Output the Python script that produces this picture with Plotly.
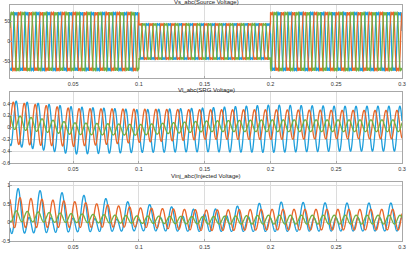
import numpy as np
import plotly.graph_objects as go

W, H = 409, 260

# ---- data ----
freq_hz = 120.0
t_start, t_end = 0.002, 0.3
n_samples = 4000

# Top: Vs_abc (Source Voltage) - peak values per segment
vs_seg_edges = [0.1, 0.2]
vs_peak = [72.0, 44.0, 72.0]
vs_phase_deg = [169.0, 49.0, 289.0]        # blue, orange, green

# Middle: Vl_abc - envelope knots
knot_t = [0.0, 0.05, 0.1, 0.15, 0.2, 0.25, 0.3]
vl_offset_blue = [0.08, -0.05, -0.06, -0.04, -0.02, -0.02, -0.02]
vl_amp_blue = [0.38, 0.40, 0.36, 0.37, 0.40, 0.38, 0.38]
vl_offset_orange = [0.08, 0.0, 0.03, 0.05, 0.05, 0.05, 0.05]
vl_amp_orange = [0.36, 0.32, 0.28, 0.25, 0.25, 0.24, 0.24]
vl_offset_green = [0.10, -0.02, -0.04, 0.02, 0.03, 0.03, 0.03]
vl_amp_green = [0.12, 0.10, 0.09, 0.09, 0.10, 0.10, 0.10]
vl_phase_deg = [160.0, 255.0, 30.0]

# Bottom: Vinj_abc - envelope knots
vi_offset_blue = [0.15, 0.12, 0.05, 0.02, 0.06, 0.06, 0.06]
vi_amp60_blue = [0.40, 0.33, 0.22, 0.05, 0.22, 0.20, 0.20]
vi_amp120_blue = [0.40, 0.33, 0.25, 0.26, 0.28, 0.27, 0.27]
vi_offset_orange = [0.28, 0.22, 0.14, 0.06, 0.08, 0.08, 0.08]
vi_amp_orange = [0.42, 0.35, 0.26, 0.28, 0.28, 0.28, 0.28]
vi_offset_green = [0.18, 0.12, 0.08, 0.06, 0.08, 0.08, 0.08]
vi_amp_green = [0.15, 0.12, 0.10, 0.10, 0.12, 0.12, 0.12]
vi_peak_time_blue = 0.0082
vi_phase_deg = [0.0, 300.0, 60.0]

series_names = ["a", "b", "c"]
colors = ["#1f9fdc", "#e8672a", "#72b043"]

titles = ["Vs_abc(Source Voltage)", "Vl_abc(SRG Voltage)", "Vinj_abc(Injected Voltage)"]
x_ticks = [0.05, 0.1, 0.15, 0.2, 0.25, 0.3]
x_tick_text = ["0.05", "0.1", "0.15", "0.2", "0.25", "0.3"]
y1_ticks = [-50, 0, 50]
y2_ticks = [-0.6, -0.4, -0.2, 0, 0.2, 0.4]
y3_ticks = [-0.5, 0, 0.5, 1]
y_ranges = [[-92, 92], [-0.6, 0.6], [-0.5, 1.1]]

# ---- build waveforms ----
t = np.linspace(t_start, t_end, n_samples)
w = 2 * np.pi * freq_hz


def seg_value(tt, edges, vals):
    idx = np.searchsorted(edges, tt, side="right")
    return np.asarray(vals)[idx]


def env(vals):
    return np.interp(t, knot_t, vals)


vs_amp = seg_value(t, vs_seg_edges, vs_peak) / 0.87
top = []
for ph in vs_phase_deg:
    th = w * t + np.radians(ph)
    top.append(vs_amp * (np.sin(th) + 0.17 * np.sin(3 * th) + 0.035 * np.sin(9 * th)))

mid = []
for off, amp, ph in [(vl_offset_blue, vl_amp_blue, vl_phase_deg[0]),
                     (vl_offset_orange, vl_amp_orange, vl_phase_deg[1]),
                     (vl_offset_green, vl_amp_green, vl_phase_deg[2])]:
    mid.append(env(off) + env(amp) * np.sin(w * t + np.radians(ph)))

bot = []
xb = 2 * np.pi * 60 * (t - vi_peak_time_blue)
bot.append(env(vi_offset_blue) + env(vi_amp60_blue) * np.cos(xb) + env(vi_amp120_blue) * np.cos(2 * xb))
bot.append(env(vi_offset_orange) + env(vi_amp_orange) * np.cos(2 * xb + np.radians(vi_phase_deg[1])))
bot.append(env(vi_offset_green) + env(vi_amp_green) * np.cos(2 * xb + np.radians(vi_phase_deg[2])))

# ---- layout in pixels ----
x_left, x_right = 10, 402
panels = [(5, 78), (92, 163), (182, 241)]  # (top, bottom) px
title_y = [2.5, 89.5, 176]


def px_x(p):
    return p / W


def px_y(p):
    return 1 - p / H


fig = go.Figure()
font = "Liberation Sans, Arial, sans-serif"
grid = "#dcdcdc"
border = "#a8a8a8"

for k, data in enumerate([top, mid, bot]):
    ax = "" if k == 0 else str(k + 1)
    for j in range(3):
        fig.add_trace(go.Scatter(x=t, y=data[j], mode="lines", name=series_names[j],
                                 line=dict(color=colors[j], width=1.3, simplify=False),
                                 xaxis="x" + ax, yaxis="y" + ax, showlegend=False,
                                 hoverinfo="skip"))
    ytv = [y1_ticks, y2_ticks, y3_ticks][k]
    yfmt = [str(v) for v in ytv]
    top_px, bot_px = panels[k]
    fig.layout["xaxis" + ax] = dict(
        domain=[px_x(x_left), px_x(x_right)], range=[t_start, t_end],
        anchor="y" + ax, tickvals=x_ticks, ticktext=x_tick_text,
        showgrid=True, gridcolor=grid, gridwidth=1, zeroline=False,
        showline=True, linecolor=border, linewidth=1, mirror=True,
        ticks="inside", ticklen=2, tickcolor=border,
        tickfont=dict(size=5.5, color="#333333", family=font), automargin=False)
    fig.layout["yaxis" + ax] = dict(
        domain=[px_y(bot_px), px_y(top_px)], range=y_ranges[k],
        anchor="x" + ax, tickvals=ytv, ticktext=yfmt,
        showgrid=True, gridcolor=grid, gridwidth=1, zeroline=False,
        showline=True, linecolor=border, linewidth=1, mirror=True,
        ticks="inside", ticklen=2, tickcolor=border, ticklabelstandoff=-2,
        tickfont=dict(size=5, color="#333333", family=font), automargin=False)
    fig.add_annotation(text=titles[k], x=px_x((x_left + x_right) / 2), y=px_y(title_y[k]),
                       xref="paper", yref="paper", showarrow=False,
                       xanchor="center", yanchor="middle",
                       font=dict(size=6, color="#222222", family=font))

fig.update_layout(width=W, height=H, margin=dict(l=0, r=0, t=0, b=0),
                  paper_bgcolor="white", plot_bgcolor="white", showlegend=False)

fig.write_html("out.html", include_plotlyjs=True, full_html=True,
               config={"displayModeBar": False})
